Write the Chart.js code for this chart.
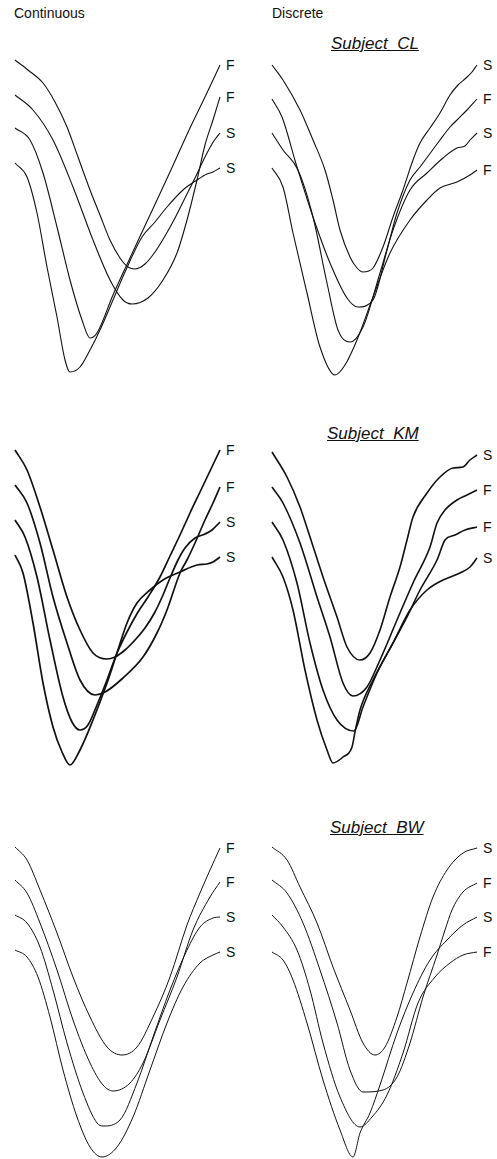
<!DOCTYPE html>
<html>
<head>
<meta charset="utf-8">
<script src="https://cdn.jsdelivr.net/npm/chart.js@4/dist/chart.umd.min.js"></script>
<style>
  body { margin: 0; background: #fff; }
  #page { position: relative; width: 497px; height: 1159px; overflow: hidden; font-family: "Liberation Sans", Arial, sans-serif; color: #111; }
  canvas { position: absolute; }
  .head { position: absolute; font-size: 14px; }
  .subj { position: absolute; font-size: 17px; font-style: italic; text-decoration: underline; white-space: pre; }
  .lab { position: absolute; font-size: 14px; line-height: 14px; }
</style>
</head>
<body>
<div id="page">
  <div class="head" style="left:14px; top:5px;">Continuous</div>
  <div class="head" style="left:272px; top:5px;">Discrete</div>
  <div class="subj" style="left:331px; top:34px;">Subject  CL</div>
  <div class="subj" style="left:327px; top:424px;">Subject  KM</div>
  <div class="subj" style="left:330px; top:818px;">Subject  BW</div>
</div>
<script>
// x = time from stroke start, y = displacement downward (panel units)

// Subject CL, continuous
const clCont1 = [[0,0],[13,10],[28,23],[40,42],[52,67],[63,97],[75,130],[85,155],[95,180],[105,198],[113,207],[120,209],[130,204],[140,192],[150,176],[160,158],[170,138],[180,118],[190,97],[197,84],[201,78],[205,73]];
const clCont2 = [[0,35],[18,50],[38,80],[58,127],[78,180],[95,220],[108,240],[117,244],[133,238],[148,220],[162,193],[172,160],[182,120],[190,85],[198,60],[205,37]];
const clCont3 = [[0,68],[15,80],[28,113],[42,167],[55,220],[67,260],[75,278],[82,273],[98,235],[115,198],[135,155],[155,112],[175,68],[190,37],[205,5]];
const clCont4 = [[0,103],[12,117],[22,153],[32,207],[42,257],[50,300],[55,312],[65,307],[75,290],[85,270],[98,240],[110,212],[127,177],[140,162],[152,147],[168,130],[182,120],[192,114],[198,112],[205,108]];
const clContLabels = ['S', 'F', 'F', 'S'];

// Subject CL, discrete
const clDisc1 = [[0,5],[11,20],[28,50],[41,80],[53,110],[61,140],[68,170],[78,197],[85,208],[91,212],[101,208],[111,187],[121,157],[131,130],[141,100],[148,83],[158,68],[168,53],[178,35],[186,25],[194,18],[200,12],[205,5]];
const clDisc2 = [[0,39],[10,57],[25,107],[41,157],[58,203],[75,238],[86,247],[101,240],[115,190],[125,153],[138,120],[148,107],[168,80],[178,67],[185,60],[195,50],[205,39]];
const clDisc3 = [[0,73],[11,90],[26,110],[41,157],[55,223],[66,270],[78,282],[91,267],[108,213],[121,170],[138,130],[155,113],[171,98],[185,88],[193,86],[198,80],[205,73]];
const clDisc4 = [[0,108],[11,127],[21,173],[35,233],[48,287],[63,315],[73,305],[85,280],[101,237],[118,193],[138,160],[155,140],[168,128],[185,122],[198,115],[205,110]];
const clDiscLabels = ['S', 'F', 'S', 'F'];

// Subject KM, continuous
const kmCont1 = [[0,0],[12,20],[25,57],[38,100],[52,147],[65,180],[78,203],[92,209],[100,207],[110,200],[120,190],[130,178],[140,162],[148,145],[155,128],[163,110],[170,98],[180,88],[190,84],[197,80],[205,72]];
const kmCont2 = [[0,35],[12,53],[25,93],[38,147],[52,193],[65,230],[80,245],[90,242],[108,228],[128,207],[142,183],[152,160],[165,123],[172,110],[180,93],[190,70],[198,53],[205,37]];
const kmCont3 = [[0,70],[10,87],[22,127],[35,190],[48,247],[57,272],[65,280],[73,275],[82,255],[92,230],[102,203],[112,182],[123,162],[133,147],[145,127],[155,106],[165,85],[175,63],[185,42],[195,21],[205,0]];
const kmCont4 = [[0,105],[8,123],[18,173],[28,233],[38,277],[47,302],[55,315],[65,300],[78,270],[92,233],[102,203],[112,173],[122,153],[135,140],[148,130],[165,122],[182,115],[192,114],[198,112],[205,107]];
const kmContLabels = ['S', 'F', 'F', 'S'];

// Subject KM, discrete
const kmDisc1 = [[0,2],[15,27],[28,57],[38,87],[51,127],[65,167],[75,197],[88,210],[98,203],[108,180],[118,147],[128,117],[135,90],[141,67],[155,43],[168,27],[181,18],[191,17],[198,10],[205,5]];
const kmDisc2 = [[0,37],[11,53],[28,93],[45,147],[58,187],[71,233],[81,246],[95,237],[108,210],[125,170],[141,133],[158,97],[165,73],[173,60],[185,50],[195,45],[205,40]];
const kmDisc3 = [[0,72],[11,90],[25,133],[38,193],[51,240],[65,270],[82,281],[91,257],[105,223],[121,193],[135,167],[148,140],[165,110],[173,90],[183,85],[193,80],[205,77]];
const kmDisc4 = [[0,107],[11,127],[21,160],[33,220],[45,270],[55,300],[61,313],[71,307],[80,297],[83,282],[88,260],[101,230],[121,193],[138,160],[155,140],[171,130],[188,123],[198,117],[205,108]];
const kmDiscLabels = ['S', 'F', 'F', 'S'];

// Subject BW, continuous
const bwCont1 = [[0,2],[12,15],[25,45],[42,88],[58,132],[75,172],[92,202],[107,210],[122,202],[138,172],[155,132],[172,80],[185,48],[195,25],[205,3]];
const bwCont2 = [[0,35],[12,48],[25,78],[42,125],[58,175],[75,218],[88,240],[98,246],[115,238],[128,218],[145,175],[162,132],[178,85],[195,52],[205,37]];
const bwCont3 = [[0,70],[12,78],[25,102],[38,145],[52,198],[68,248],[82,278],[88,281],[105,275],[122,238],[138,192],[155,145],[172,105],[185,82],[198,73],[205,72]];
const bwCont4 = [[0,105],[12,112],[23,132],[35,172],[48,225],[62,272],[75,302],[87,312],[102,302],[118,272],[135,225],[152,178],[168,142],[185,118],[198,110],[205,107]];
const bwContLabels = ['F', 'F', 'S', 'S'];

// Subject BW, discrete
const bwDisc1 = [[0,2],[15,15],[28,42],[45,78],[61,122],[78,165],[91,198],[103,210],[113,202],[125,172],[135,138],[148,92],[161,52],[175,25],[191,8],[205,3]];
const bwDisc2 = [[0,35],[15,48],[31,78],[48,125],[65,178],[78,225],[91,247],[111,245],[125,232],[138,198],[151,152],[165,110],[173,85],[180,65],[191,47],[205,38]];
const bwDisc3 = [[0,70],[11,82],[25,105],[38,145],[51,198],[68,252],[88,282],[100,272],[115,250],[131,208],[146,158],[163,132],[178,118],[191,110],[205,107]];
const bwDisc4 = [[0,107],[11,115],[21,135],[35,178],[51,235],[68,285],[81,312],[88,288],[98,268],[108,240],[125,188],[141,148],[158,115],[175,95],[191,80],[205,72]];
const bwDiscLabels = ['S', 'F', 'F', 'S'];

const xMax = 205;
const yMax = 320;
const pad = 6;

const panels = [
  { curves: [clCont1, clCont2, clCont3, clCont4], labels: clContLabels, left: 15, top: 60, width: 1.1 },
  { curves: [clDisc1, clDisc2, clDisc3, clDisc4], labels: clDiscLabels, left: 272, top: 60, width: 1.1 },
  { curves: [kmCont1, kmCont2, kmCont3, kmCont4], labels: kmContLabels, left: 15, top: 450, width: 1.7 },
  { curves: [kmDisc1, kmDisc2, kmDisc3, kmDisc4], labels: kmDiscLabels, left: 272, top: 450, width: 1.6 },
  { curves: [bwCont1, bwCont2, bwCont3, bwCont4], labels: bwContLabels, left: 15, top: 845, width: 1.0 },
  { curves: [bwDisc1, bwDisc2, bwDisc3, bwDisc4], labels: bwDiscLabels, left: 272, top: 845, width: 1.0 }
];

const page = document.getElementById('page');

panels.forEach(p => {
  const canvas = document.createElement('canvas');
  canvas.width = xMax + 2 * pad;
  canvas.height = yMax + 2 * pad;
  canvas.style.left = (p.left - pad) + 'px';
  canvas.style.top = (p.top - pad) + 'px';
  page.appendChild(canvas);

  const chart = new Chart(canvas.getContext('2d'), {
    type: 'scatter',
    data: {
      datasets: p.curves.map(c => ({
        data: c.map(pt => ({ x: pt[0], y: pt[1] })),
        showLine: true,
        borderColor: '#111',
        borderWidth: p.width,
        pointRadius: 0,
        cubicInterpolationMode: 'monotone',
        clip: false
      }))
    },
    options: {
      responsive: false,
      animation: false,
      devicePixelRatio: 1,
      layout: { padding: pad },
      plugins: { legend: { display: false }, tooltip: { enabled: false } },
      scales: {
        x: { type: 'linear', display: false, min: 0, max: xMax },
        y: { type: 'linear', display: false, min: 0, max: yMax, reverse: true }
      }
    }
  });

  // end-of-curve labels, placed from the scales
  p.curves.forEach((c, i) => {
    const last = c[c.length - 1];
    const span = document.createElement('div');
    span.className = 'lab';
    span.textContent = p.labels[i];
    span.style.left = (p.left - pad + chart.scales.x.getPixelForValue(last[0]) + 6) + 'px';
    span.style.top = (p.top - pad + chart.scales.y.getPixelForValue(last[1]) - 7) + 'px';
    page.appendChild(span);
  });
});
</script>
</body>
</html>
